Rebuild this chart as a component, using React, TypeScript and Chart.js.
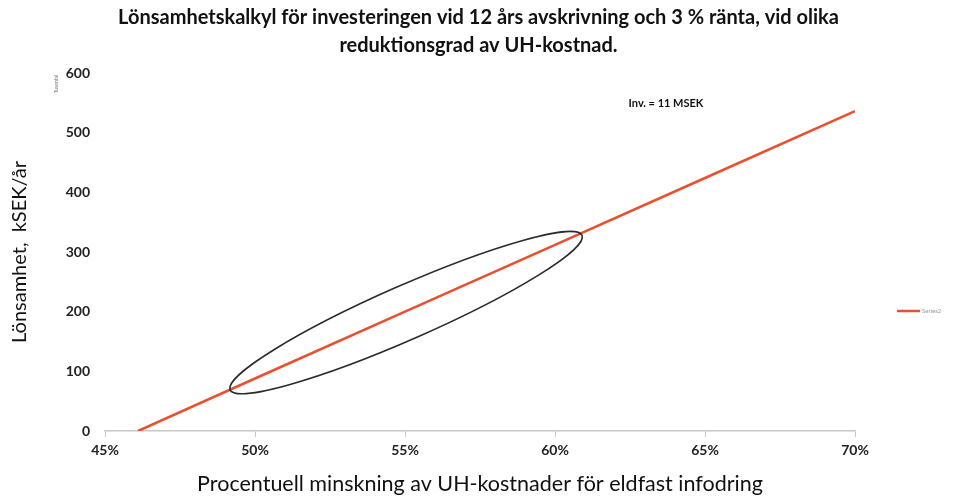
import React, { useEffect, useRef } from "react";
import { Chart, registerables } from "chart.js";

Chart.register(...registerables);

const titleLines = [
  "Lönsamhetskalkyl för investeringen vid 12 års avskrivning och 3 % ränta, vid olika",
  "reduktionsgrad av UH-kostnad.",
];
const xAxisTitle = "Procentuell minskning av UH-kostnader för eldfast infodring";
const yAxisTitle = "Lönsamhet,  kSEK/år";
const seriesName = "Series2";
const unitLabel = "Tusental";
const noteText = "Inv. = 11 MSEK";
const notePos = { x: 63.7, y: 549 };

// x = reduction (%), y = profitability (kSEK/year)
const reduction = [46.1, 50, 55, 60, 65, 70];
const profit = [0, 88, 200, 312, 424, 536];

const xTicks = [45, 50, 55, 60, 65, 70];
const yTicks = [0, 100, 200, 300, 400, 500, 600];

// ellipse annotation: end points of the major axis in data units
const ellipseEnds = [
  { x: 49.17, y: 69 },
  { x: 60.9, y: 328 },
];

const overlayPlugin = {
  id: "overlay",
  afterDatasetsDraw(chart: any) {
    const { ctx, scales } = chart;
    const xs = scales.x;
    const ys = scales.y;
    ctx.save();
    // ellipse
    const p1 = { x: xs.getPixelForValue(ellipseEnds[0].x), y: ys.getPixelForValue(ellipseEnds[0].y) };
    const p2 = { x: xs.getPixelForValue(ellipseEnds[1].x), y: ys.getPixelForValue(ellipseEnds[1].y) };
    const cx = (p1.x + p2.x) / 2;
    const cy = (p1.y + p2.y) / 2;
    const rx = Math.hypot(p2.x - p1.x, p2.y - p1.y) / 2;
    const ang = Math.atan2(p2.y - p1.y, p2.x - p1.x);
    ctx.beginPath();
    ctx.ellipse(cx, cy, rx, 27, ang, 0, Math.PI * 2);
    ctx.strokeStyle = "#2b2b2b";
    ctx.lineWidth = 1.6;
    ctx.stroke();

    // note
    ctx.fillStyle = "#111";
    ctx.font = "bold 11px Lato";
    ctx.textAlign = "center";
    ctx.textBaseline = "middle";
    ctx.fillText(noteText, xs.getPixelForValue(notePos.x), ys.getPixelForValue(notePos.y));

    // title
    ctx.font = "bold 20px Lato";
    ctx.fillStyle = "#111";
    const midX = chart.width / 2;
    ctx.fillText(titleLines[0], midX, 18);
    ctx.fillText(titleLines[1], midX, 46);

    // tiny unit label
    ctx.save();
    ctx.translate(56, 84);
    ctx.rotate(-Math.PI / 2);
    ctx.font = "5px Lato";
    ctx.fillStyle = "#777";
    ctx.fillText(unitLabel, 0, 0);
    ctx.restore();

    // legend
    const ly = 311;
    ctx.beginPath();
    ctx.moveTo(897, ly);
    ctx.lineTo(920, ly);
    ctx.strokeStyle = "#e8502f";
    ctx.lineWidth = 2.5;
    ctx.stroke();
    ctx.font = "6px Lato";
    ctx.fillStyle = "#999";
    ctx.textAlign = "left";
    ctx.fillText(seriesName, 922, ly);
    ctx.restore();
  },
};

export default function App() {
  const ref = useRef<HTMLCanvasElement | null>(null);
  useEffect(() => {
    document.body.style.margin = "0";
    const canvas = ref.current!;
    const chart = new Chart(canvas, {
      type: "scatter",
      data: {
        datasets: [
          {
            label: seriesName,
            data: reduction.map((x, i) => ({ x, y: profit[i] })),
            showLine: true,
            borderColor: "#e8502f",
            borderWidth: 2.5,
            pointRadius: 0,
            fill: false,
          },
        ],
      },
      options: {
        animation: false,
        responsive: false,
        maintainAspectRatio: false,
        layout: { padding: { top: 73, right: 102, left: 0, bottom: 0 } },
        plugins: { legend: { display: false }, tooltip: { enabled: false }, title: { display: false } },
        scales: {
          x: {
            type: "linear",
            min: 45,
            max: 70,
            afterBuildTicks: (s: any) => {
              s.ticks = xTicks.map((v) => ({ value: v }));
            },
            afterFit: (s: any) => {
              s.height = 67;
            },
            grid: { display: true, drawOnChartArea: false, drawTicks: true, tickLength: 6, color: "#c8c8c8" },
            border: { display: true, color: "#c8c8c8", width: 1.5 },
            ticks: {
              padding: 5,
              color: "#222",
              font: { family: "Lato", size: 14, weight: "bold" },
              callback: (v: any) => v + "%",
              maxRotation: 0,
            },
            title: {
              display: true,
              text: xAxisTitle,
              color: "#111",
              font: { family: "Lato", size: 21.5 },
              padding: { top: 0, bottom: 1 },
            },
          },
          y: {
            type: "linear",
            min: 0,
            max: 600,
            afterBuildTicks: (s: any) => {
              s.ticks = yTicks.map((v) => ({ value: v }));
            },
            afterFit: (s: any) => {
              s.width = 105;
            },
            grid: { display: false },
            border: { display: false },
            ticks: {
              padding: 7,
              color: "#222",
              font: { family: "Lato", size: 14, weight: "bold" },
            },
            title: {
              display: true,
              text: yAxisTitle,
              color: "#111",
              font: { family: "Lato", size: 20 },
              padding: { top: 8, bottom: 0 },
            },
          },
        },
      },
      plugins: [overlayPlugin],
    });
    return () => chart.destroy();
  }, []);
  return (
    <div style={{ position: "relative", width: 957, height: 498, background: "#fff" }}>
      <canvas ref={ref} width={957} height={498} style={{ display: "block" }} />
    </div>
  );
}
